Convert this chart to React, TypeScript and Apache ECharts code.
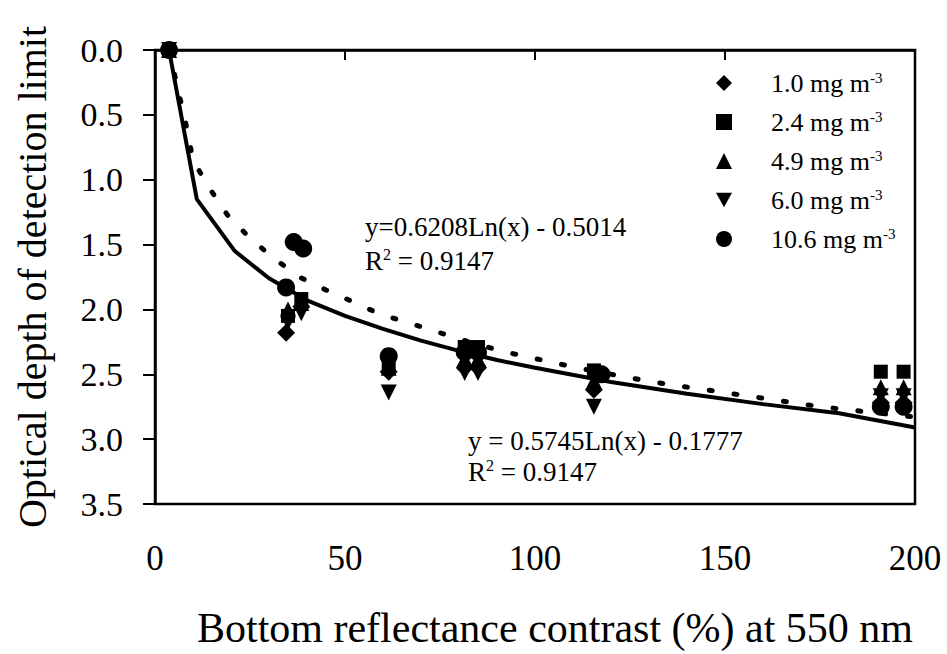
import React, { useEffect, useRef } from "react";
import * as echarts from "echarts";

const xTicks = [0, 50, 100, 150, 200];
const yTicks = [0, 0.5, 1, 1.5, 2, 2.5, 3, 3.5];

const seriesNames = ["1.0", "2.4", "4.9", "6.0", "10.6"];

const s10: [number, number][] = [
  [3.7, 0], [34.5, 2.18], [38.5, 1.98], [61.5, 2.48], [81.5, 2.45], [85, 2.45], [115.5, 2.62], [191, 2.72], [197, 2.72],
];
const s24: [number, number][] = [
  [3.7, 0], [35, 2.05], [38.5, 1.92], [61.5, 2.42], [81.5, 2.29], [85, 2.29], [115.5, 2.47], [191, 2.48], [197, 2.48],
];
const s49: [number, number][] = [
  [3.7, 0], [35, 2.0], [38.5, 1.95], [61.5, 2.45], [81.5, 2.38], [85, 2.38], [115.5, 2.55], [191, 2.6], [197, 2.6],
];
const s60: [number, number][] = [
  [3.7, 0], [35, 2.1], [38.5, 2.03], [61.5, 2.64], [81.5, 2.49], [85, 2.49], [115.5, 2.75], [191, 2.67], [197, 2.67],
];
const s106: [number, number][] = [
  [3.7, 0], [34.5, 1.83], [36.5, 1.48], [39, 1.53], [61.5, 2.36], [81.5, 2.33], [85, 2.33], [117.5, 2.5], [191, 2.75], [197, 2.75],
];

const solidFit: [number, number][] = [
  [3.7, 0.0], [11, 1.15], [21, 1.55], [30, 1.76], [40, 1.93], [50, 2.05], [60, 2.15], [70, 2.24], [80, 2.32],
  [90, 2.39], [100, 2.45], [120, 2.56], [140, 2.65], [160, 2.73], [180, 2.8], [200, 2.91],
];
const dottedFit: [number, number][] = [
  [3.7, 0.0], [6, 0.3], [8, 0.55], [10, 0.85], [14, 1.05], [19, 1.27], [25, 1.45], [31, 1.6], [38, 1.75],
  [45, 1.85], [52, 1.94], [58, 2.02], [65, 2.09], [72, 2.15], [78, 2.21], [91, 2.32], [111, 2.45], [131, 2.56],
  [152, 2.65], [175, 2.75], [200, 2.83],
];

const FONT = "'Liberation Serif', 'Times New Roman', serif";

export default function App() {
  const ref = useRef<HTMLDivElement>(null);
  useEffect(() => {
    if (!ref.current) return;
    const chart = echarts.init(ref.current, null, { renderer: "svg" });
    const downTri = "path://M0,0 L10,0 L5,9 Z";
    const symbols = ["diamond", "rect", "triangle", downTri, "circle"];
    const sizes = [18, 14, 16, 16, 18];
    const datas = [s10, s24, s49, s60, s106];
    const scatter = seriesNames.map((n, i) => ({
      name: n,
      type: "scatter",
      data: datas[i],
      symbol: symbols[i],
      symbolSize: sizes[i],
      itemStyle: { color: "#000", opacity: 1 },
      z: 3,
    }));
    const sup = (fs: number) => ({
      a: { font: `${fs}px ${FONT}`, fill: "#000", lineHeight: 30 },
      s: { font: `16px ${FONT}`, fill: "#000", verticalAlign: "top", lineHeight: 30, padding: [0, 0, 12, 0] },
    });
    const option: any = {
      animation: false,
      backgroundColor: "#fff",
      textStyle: { fontFamily: FONT, color: "#000" },
      grid: {
        left: 155, right: 32, top: 50, bottom: 149,
        show: true, borderColor: "#000", borderWidth: 2.5, backgroundColor: "transparent",
      },
      legend: {
        orient: "vertical",
        left: 711,
        top: 65,
        itemWidth: 16,
        itemHeight: 16,
        itemGap: 12,
        selectedMode: false,
        data: seriesNames,
        itemStyle: { opacity: 1 },
        formatter: (n: string) => `{a|${n} mg m}{s|-3}`,
        textStyle: {
          color: "#000",
          fontFamily: FONT,
          rich: {
            a: { fontSize: 26, fontFamily: FONT, color: "#000", padding: [0, 0, 0, 34], lineHeight: 26 },
            s: { fontSize: 15, fontFamily: FONT, color: "#000", verticalAlign: "top", lineHeight: 26, padding: [0, 0, 12, 0] },
          },
        },
      },
      xAxis: {
        type: "value",
        min: 0, max: 200, interval: 50,
        name: "Bottom reflectance contrast (%) at 550 nm",
        nameLocation: "middle",
        nameGap: 103,
        nameTextStyle: { fontSize: 42, fontFamily: FONT, color: "#000", padding: [0, 0, 0, 40] },
        axisLine: { show: true, lineStyle: { color: "#000", width: 2.5 } },
        axisTick: { show: true, inside: false, length: 10, lineStyle: { color: "#000", width: 2 } },
        axisLabel: { fontSize: 35, fontFamily: FONT, color: "#000", margin: 37 },
        splitLine: { show: false },
      },
      yAxis: {
        type: "value",
        inverse: true,
        min: 0, max: 3.5, interval: 0.5,
        name: "Optical depth of detection limit",
        nameLocation: "middle",
        nameGap: 103,
        nameTextStyle: { fontSize: 40, fontFamily: FONT, color: "#000" },
        axisLine: { show: true, lineStyle: { color: "#000", width: 2.5 } },
        axisTick: { show: true, inside: false, length: 12, lineStyle: { color: "#000", width: 2 } },
        axisLabel: {
          fontSize: 34, fontFamily: FONT, color: "#000", margin: 32,
          formatter: (v: number) => (yTicks.includes(v) ? v.toFixed(1) : ""),
        },
        splitLine: { show: false },
      },
      series: [
        {
          name: "fitSolid",
          type: "line",
          data: solidFit,
          symbol: "none",
          lineStyle: { color: "#000", width: 4 },
          z: 2,
        },
        {
          name: "fitDotted",
          type: "line",
          data: dottedFit,
          symbol: "none",
          lineStyle: { color: "#000", width: 5, type: [3, 22], cap: "round" },
          z: 2,
        },
        ...scatter,
      ],
      graphic: [
        {
          type: "text", left: 365, top: 213,
          style: { text: "y=0.6208Ln(x) - 0.5014", font: `27px ${FONT}`, fill: "#000" },
        },
        {
          type: "text", left: 365, top: 246,
          style: { text: "{a|R}{s|2}{a| = 0.9147}", rich: sup(27) },
        },
        {
          type: "text", left: 468, top: 427,
          style: { text: "y = 0.5745Ln(x) - 0.1777", font: `27px ${FONT}`, fill: "#000" },
        },
        {
          type: "text", left: 468, top: 457,
          style: { text: "{a|R}{s|2}{a| = 0.9147}", rich: sup(27) },
        },
      ],
    };
    chart.setOption(option);
    return () => chart.dispose();
  }, []);
  return <div ref={ref} style={{ width: 947, height: 654, position: "absolute", left: 0, top: 0 }} />;
}
